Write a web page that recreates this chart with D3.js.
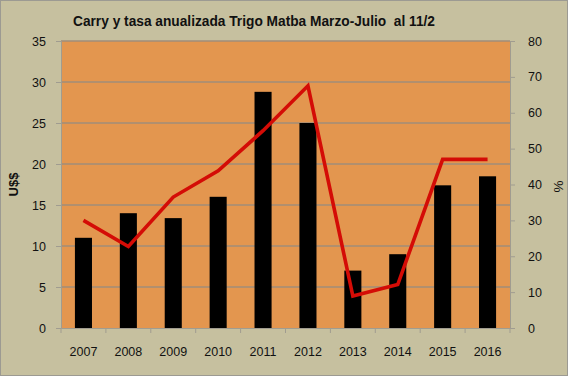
<!DOCTYPE html>
<html lang="es">
<head>
<meta charset="UTF-8">
<title>Carry y tasa anualizada</title>
<script src="https://cdn.jsdelivr.net/npm/d3@7"></script>
<style>
    body{ margin:0; background:#fff; }
    text{ font-family: "Liberation Sans", Arial, sans-serif; fill:#111; }
</style>
</head>
<body>
<svg id="chart" width="570" height="379"></svg>
<script>
// data
const years = ["2007","2008","2009","2010","2011","2012","2013","2014","2015","2016"];
const carry = [11, 14, 13.4, 16, 28.8, 25, 7, 9, 17.4, 18.5];     // U$$ (bars)
const tasa  = [30, 22.7, 36.5, 43.8, 55, 67.5, 8.9, 12.1, 47, 47]; // % (line)
const leftTicks = [0,5,10,15,20,25,30,35];
const rightTicks = [0,10,20,30,40,50,60,70,80];

const svg = d3.select("#chart");
const W = 570, H = 379;
const m = {top:41, right:60, bottom:51, left:61};

// outer background
svg.append("rect")
    .attr("x",0.5).attr("y",0.5)
    .attr("width",W-3).attr("height",H-4)
    .attr("fill","#c6c09f")
    .attr("stroke","#9c9a92");

const x = d3.scaleBand().domain(years).range([m.left, W-m.right]).paddingInner(0.62).paddingOuter(0.31);
const xb = d3.scaleBand().domain(years).range([m.left, W-m.right]);
const yL = d3.scaleLinear().domain([0,35]).range([H-m.bottom, m.top]);
const yR = d3.scaleLinear().domain([0,80]).range([H-m.bottom, m.top]);

// plot area
svg.append("rect")
    .attr("x",m.left).attr("y",m.top)
    .attr("width",W-m.left-m.right).attr("height",H-m.top-m.bottom)
    .attr("fill","#e3964f");

// grid
svg.append("g").selectAll("line").data(leftTicks.slice(1)).join("line")
    .attr("x1",m.left).attr("x2",W-m.right)
    .attr("y1",d=>yL(d)).attr("y2",d=>yL(d))
    .attr("stroke","#a08c78").attr("stroke-width",1.3);

// bars
svg.append("g").selectAll("rect").data(carry).join("rect")
    .attr("x",(d,i)=>x(years[i]))
    .attr("width",x.bandwidth())
    .attr("y",d=>yL(d))
    .attr("height",d=>yL(0)-yL(d))
    .attr("fill","#000");

// line
const line = d3.line()
    .x((d,i)=>xb(years[i]) + xb.bandwidth()/2)
    .y(d=>yR(d));
svg.append("path").datum(tasa)
    .attr("d",line)
    .attr("fill","none")
    .attr("stroke","#d40c06")
    .attr("stroke-width",3.6)
    .attr("stroke-linejoin","miter");

// axes
const axL = svg.append("g").attr("transform",`translate(${m.left},0)`)
    .call(d3.axisLeft(yL).tickValues(leftTicks).tickSize(5).tickPadding(10));
const axR = svg.append("g").attr("transform",`translate(${W-m.right},0)`)
    .call(d3.axisRight(yR).tickValues(rightTicks).tickSize(5).tickPadding(13));
const axB = svg.append("g").attr("transform",`translate(0,${H-m.bottom})`)
    .call(d3.axisBottom(xb).tickSize(0).tickPadding(19));
svg.append("g").attr("transform",`translate(0,${H-m.bottom})`)
    .selectAll("line").data(d3.range(years.length+1)).join("line")
    .attr("x1",i=>m.left+i*xb.step()).attr("x2",i=>m.left+i*xb.step())
    .attr("y1",0).attr("y2",5).attr("stroke","#a09c90");

[axL,axR,axB].forEach(a=>{
    a.select(".domain").attr("stroke","#a09c90");
    a.selectAll(".tick line").attr("stroke","#a09c90");
    a.selectAll("text").attr("font-size",12.5).attr("font-family","Liberation Sans, Arial, sans-serif").attr("fill","#111");
});

// titles
svg.append("text")
    .attr("x",254).attr("y",26)
    .attr("text-anchor","middle")
    .style("white-space","pre")
    .attr("font-size",14.5).attr("font-weight","bold")
    .attr("textLength",362).attr("lengthAdjust","spacingAndGlyphs")
    .text("Carry y tasa anualizada Trigo Matba Marzo-Julio  al 11/2");

svg.append("text")
    .attr("transform",`translate(18,${(m.top+H-m.bottom)/2}) rotate(-90)`)
    .attr("text-anchor","middle")
    .attr("font-size",13).attr("font-weight","bold")
    .text("U$$");

svg.append("text")
    .attr("transform",`translate(563,${(m.top+H-m.bottom)/2 + 2}) rotate(-90)`)
    .attr("text-anchor","middle")
    .attr("font-size",13.5)
    .text("%");
</script>
</body>
</html>
